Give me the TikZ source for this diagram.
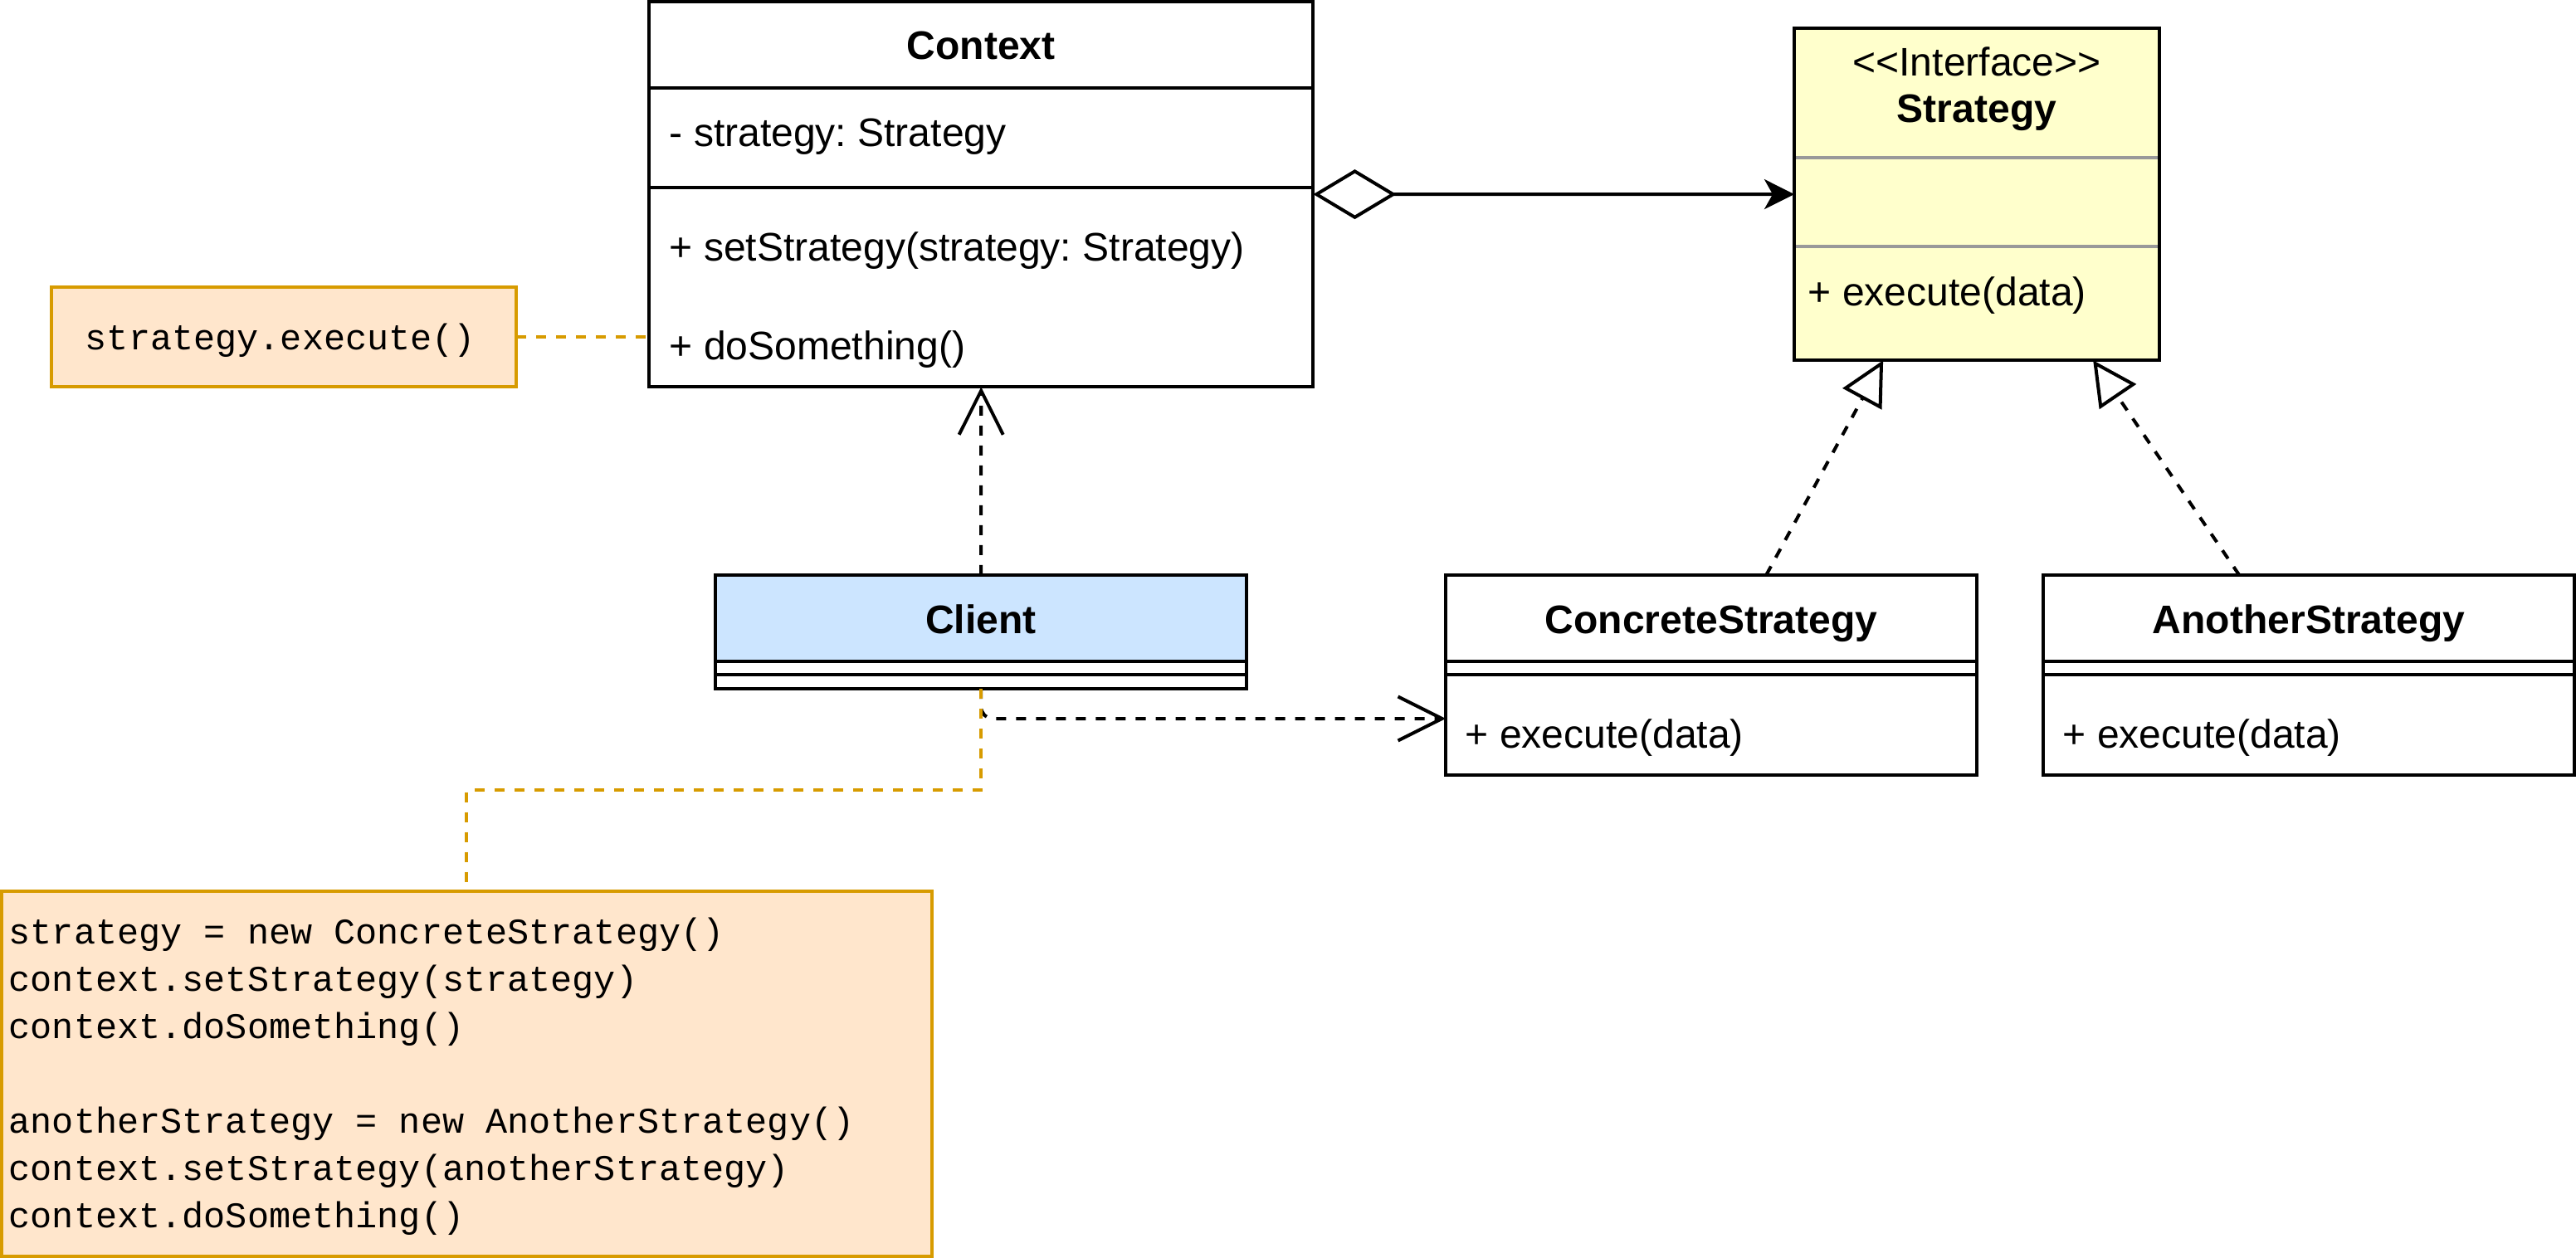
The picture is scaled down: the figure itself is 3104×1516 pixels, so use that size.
\documentclass[tikz,border=0pt]{standalone}
\usepackage{fontspec}
\setmainfont{Liberation Sans}
\newfontfamily\monof{Liberation Mono}
\usetikzlibrary{arrows.meta,calc}
\definecolor{noteFill}{HTML}{FFE6CC}
\definecolor{noteLine}{HTML}{D79B00}
\definecolor{ifaceFill}{HTML}{FFFFCC}
\definecolor{clientFill}{HTML}{CCE5FF}
\definecolor{sepGray}{HTML}{999999}
\frenchspacing
\begin{document}
\begin{tikzpicture}[x=0.01cm,y=-0.01cm,
  lw/.style={line width=1.14pt},
  cls/.style={draw, lw, inner sep=0pt, outer sep=0pt, anchor=north west},
  graysep/.style={line width=1.14pt, draw=sepGray},
  txt/.style={inner sep=0pt, font=\fontsize{13.66}{16}\selectfont},
  ttl/.style={inner sep=0pt, font=\fontsize{13.66}{16}\selectfont\bfseries},
  mono/.style={inner sep=0pt, anchor=base west, font=\monof\fontsize{12.38}{16}\selectfont},
  notebox/.style={draw=noteLine, fill=noteFill, lw, inner sep=0pt, outer sep=0pt, anchor=north west},
  dsh/.style={lw, dash pattern=on 0.12cm off 0.12cm},
  barb/.style={-{Straight Barb[length=0.53cm, width=0.53cm]}},
  realize/.style={-{Triangle[open, length=0.53cm, width=0.53cm]}}
]
\useasboundingbox (0,0) rectangle (3104,1516);

% Context
\node[cls, minimum width=8cm, minimum height=4.64cm] (context) at (782,2) {};
\draw[lw] (782,106) -- (1582,106);
\draw[lw] (782,226) -- (1582,226);
\node[ttl, anchor=base] (ctxname) at (1182,72) {Context};
\node[txt, anchor=base west] (ctxattr) at (806,177) {- strategy: Strategy};
\node[txt, anchor=base west] (ctxm1) at (806,315) {+ setStrategy(strategy: Strategy)};
\node[txt, anchor=base west] (ctxm2) at (806,434) {+ doSomething()};

% Strategy interface
\node[cls, fill=ifaceFill, minimum width=4.4cm, minimum height=4cm] (strategy) at (2162,34) {};
\draw[graysep] (2164,190) -- (2600,190);
\draw[graysep] (2164,297) -- (2600,297);
\node[txt, anchor=base] (stereo) at (2382,92) {<\kern0pt<Interface>\kern0pt>};
\node[ttl, anchor=base] (stratname) at (2382,148) {Strategy};
\node[txt, anchor=base west] (stratm) at (2178,369) {+ execute(data)};

% Client
\fill[clientFill] (862,693) rectangle (1502,797);
\node[cls, minimum width=6.4cm, minimum height=1.37cm] (client) at (862,693) {};
\draw[lw] (862,797) -- (1502,797);
\draw[lw] (862,813) -- (1502,813);
\node[ttl, anchor=base] (clientname) at (1182,763) {Client};

% ConcreteStrategy
\node[cls, minimum width=6.4cm, minimum height=2.41cm] (cs) at (1742,693) {};
\draw[lw] (1742,797) -- (2382,797);
\draw[lw] (1742,813) -- (2382,813);
\node[ttl, anchor=base] (csname) at (2062,763) {ConcreteStrategy};
\node[txt, anchor=base west] (csm) at (1765,901) {+ execute(data)};

% AnotherStrategy
\node[cls, minimum width=6.4cm, minimum height=2.41cm] (as) at (2462,693) {};
\draw[lw] (2462,797) -- (3102,797);
\draw[lw] (2462,813) -- (3102,813);
\node[ttl, anchor=base] (asname) at (2782,763) {AnotherStrategy};
\node[txt, anchor=base west] (asm) at (2485,901) {+ execute(data)};

% Notes
\node[notebox, minimum width=5.6cm, minimum height=1.2cm] (note1) at (62,346) {};
\node[mono, anchor=base] (note1txt) at (338,422) {strategy.execute()};

\node[notebox, minimum width=11.2cm, minimum height=4.4cm] (note2) at (2,1074) {};
\node[mono] (n2l1) at (10,1137) {strategy = new ConcreteStrategy()};
\node[mono] (n2l2) at (10,1194) {context.setStrategy(strategy)};
\node[mono] (n2l3) at (10,1251) {context.doSomething()};
\node[mono] (n2l5) at (10,1365) {anotherStrategy = new AnotherStrategy()};
\node[mono] (n2l6) at (10,1422) {context.setStrategy(anotherStrategy)};
\node[mono] (n2l7) at (10,1479) {context.doSomething()};

% Connectors
\draw[lw, {Diamond[open, length=1cm, width=0.6cm]}-{Stealth[length=0.36cm, width=0.36cm, inset=0.1cm]}]
  (context.east) -- (strategy.west);
\draw[dsh, barb] (client.north) -- (context.south);
\draw[dsh, barb, rounded corners=0.14cm] (client.south) |- ($(cs.north west)+(0,173)$);
\draw[dsh, realize] ($(cs.north)+(66,0)$) -- ($(strategy.south)+(-113,0)$);
\draw[dsh, realize] ($(as.north)+(-84,0)$) -- ($(strategy.south)+(140,0)$);
\draw[dsh, draw=noteLine] (note1.east) -- (note1.east -| context.west);
\draw[dsh, draw=noteLine] (client.south) -- ++(0,122) -| (note2.north);
\end{tikzpicture}
\end{document}
